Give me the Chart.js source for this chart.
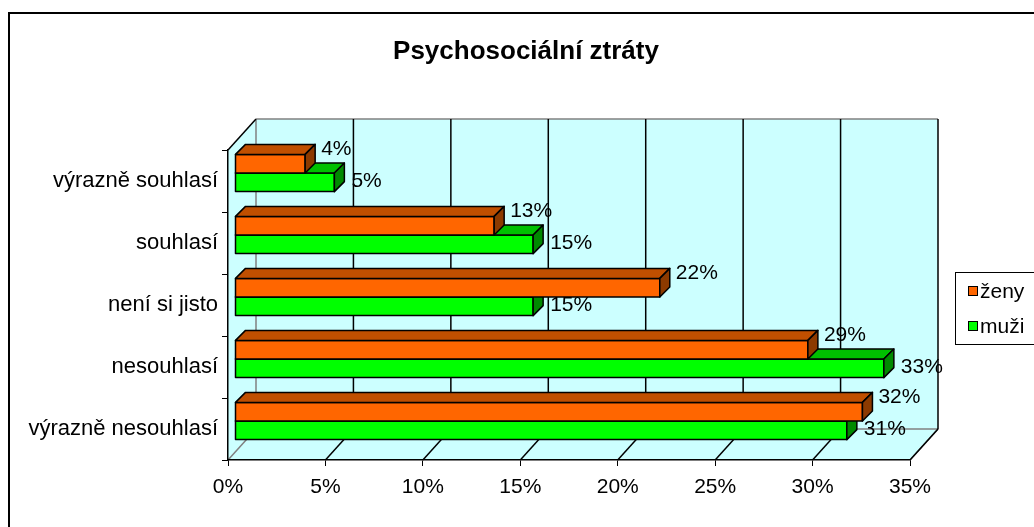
<!DOCTYPE html>
<html>
<head>
<meta charset="utf-8">
<script src="https://cdn.jsdelivr.net/npm/chart.js@4.4.1/dist/chart.umd.min.js"></script>
<style>
  html, body { margin: 0; padding: 0; background: #fff; }
  #wrap { width: 1034px; height: 527px; position: relative; }
</style>
</head>
<body>
<div id="wrap"><canvas id="chart"></canvas></div>
<script>
const chartTitle = "Psychosociální ztráty";
const categories = ["výrazně souhlasí", "souhlasí", "není si jisto", "nesouhlasí", "výrazně nesouhlasí"];
const seriesNames = ["ženy", "muži"];
const zeny = [3.6, 13.3, 21.8, 29.4, 32.2];
const muzi = [5.1, 15.3, 15.3, 33.3, 31.4];
const xTicks = [0, 5, 10, 15, 20, 25, 30, 35];

const FONT = '"Liberation Sans", Arial, sans-serif';
const fronts = ["#FF6600", "#00FF00"];
const tops = ["#C04F00", "#00C000"];
const sides = ["#8C3A00", "#008A00"];

// 3D box depth and bar offset inside it
const DX = 28, DY = -31;
const BAR_DX = 7, BAR_DY = -8;
const BAR_D = 10;

function poly(ctx, pts) {
    ctx.beginPath();
    ctx.moveTo(pts[0][0], pts[0][1]);
    for (let i = 1; i < pts.length; i++) ctx.lineTo(pts[i][0], pts[i][1]);
    ctx.closePath();
}

function line(ctx, x1, y1, x2, y2) {
    ctx.beginPath();
    ctx.moveTo(x1, y1);
    ctx.lineTo(x2, y2);
    ctx.stroke();
}

function drawBar(ctx, bar, s) {
    const p = bar.getProps(["x", "y", "base", "height"], true);
    const x0 = Math.min(p.base, p.x), x1 = Math.max(p.base, p.x);
    const y0 = p.y - p.height / 2, y1 = p.y + p.height / 2;
    const d = BAR_D;
    ctx.lineWidth = 1.5;
    ctx.strokeStyle = "#000";
    ctx.lineJoin = "round";

    ctx.fillStyle = fronts[s];
    ctx.fillRect(x0, y0, x1 - x0, y1 - y0);
    ctx.strokeRect(x0, y0, x1 - x0, y1 - y0);

    poly(ctx, [[x0, y0], [x0 + d, y0 - d], [x1 + d, y0 - d], [x1, y0]]);
    ctx.fillStyle = tops[s];
    ctx.fill();
    ctx.stroke();

    poly(ctx, [[x1, y0], [x1 + d, y0 - d], [x1 + d, y1 - d], [x1, y1]]);
    ctx.fillStyle = sides[s];
    ctx.fill();
    ctx.stroke();
}

const box3d = {
    id: "box3d",
    beforeDraw(chart) {
        const ctx = chart.ctx;
        const { left: L, right: R, top: T, bottom: B } = chart.chartArea;
        const xs = chart.scales.x;
        ctx.save();

        // outer frame
        ctx.strokeStyle = "#000";
        ctx.lineWidth = 2;
        ctx.strokeRect(9, 13, chart.width + 20, chart.height + 20);

        // left wall, back wall and floor
        poly(ctx, [[L, T], [L + DX, T + DY], [R + DX, T + DY], [R + DX, B + DY], [R, B], [L, B]]);
        ctx.fillStyle = "#CCFFFF";
        ctx.fill();

        ctx.strokeStyle = "#808080";
        ctx.lineWidth = 1.5;
        line(ctx, L + DX, T + DY, R + DX, T + DY);
        line(ctx, L + DX, T + DY, L + DX, B + DY);
        line(ctx, L + DX, B + DY, R + DX, B + DY);
        line(ctx, R, B, R + DX, B + DY);
        line(ctx, L, B, L + DX, B + DY);

        ctx.strokeStyle = "#000";
        ctx.lineWidth = 1.5;
        line(ctx, L, T, L + DX, T + DY);

        xTicks.forEach(v => {
            if (v === 0) return;
            const px = xs.getPixelForValue(v);
            line(ctx, px + DX, T + DY, px + DX, B + DY);
            line(ctx, px, B, px + DX, B + DY);
        });
        ctx.restore();
    },
    beforeDatasetsDraw(chart) {
        chart.ctx.save();
        chart.ctx.translate(BAR_DX, BAR_DY);
    },
    afterDatasetsDraw(chart) {
        const ctx = chart.ctx;
        const m0 = chart.getDatasetMeta(0).data;
        const m1 = chart.getDatasetMeta(1).data;
        for (let i = 0; i < categories.length; i++) {
            drawBar(ctx, m1[i], 1);
            drawBar(ctx, m0[i], 0);
        }
        ctx.fillStyle = "#000";
        ctx.font = "21px " + FONT;
        ctx.textAlign = "left";
        ctx.textBaseline = "middle";
        for (let i = 0; i < categories.length; i++) {
            const a = m0[i], b = m1[i];
            ctx.fillText(Math.round(zeny[i]) + "%", a.x + 16, a.y - 14);
            ctx.fillText(Math.round(muzi[i]) + "%", b.x + 17, b.y - 1);
        }
        ctx.restore();
    },
    afterDraw(chart) {
        const ctx = chart.ctx;
        ctx.save();
        ctx.fillStyle = "#000";
        ctx.textAlign = "center";
        ctx.textBaseline = "middle";
        ctx.font = "bold 26px " + FONT;
        ctx.fillText(chartTitle, 526, 52);

        // legend
        ctx.strokeStyle = "#000";
        ctx.lineWidth = 1;
        ctx.strokeRect(955.5, 272.5, 120, 72);
        ctx.font = "21px " + FONT;
        ctx.textAlign = "left";
        seriesNames.forEach((name, i) => {
            const y = 291 + i * 35;
            ctx.fillStyle = fronts[i];
            ctx.fillRect(968.5, y - 4.5, 9, 9);
            ctx.strokeRect(968.5, y - 4.5, 9, 9);
            ctx.fillStyle = "#000";
            ctx.fillText(name, 980, y + 1);
        });
        ctx.restore();
    }
};

new Chart(document.getElementById("chart"), {
    type: "bar",
    data: {
        labels: categories,
        datasets: [
            { label: seriesNames[0], data: zeny, backgroundColor: fronts[0], borderColor: "#000", borderWidth: 1,
              categoryPercentage: 0.6, barPercentage: 1 },
            { label: seriesNames[1], data: muzi, backgroundColor: fronts[1], borderColor: "#000", borderWidth: 1,
              categoryPercentage: 0.6, barPercentage: 1 }
        ]
    },
    options: {
        indexAxis: "y",
        responsive: true,
        maintainAspectRatio: false,
        animation: false,
        layout: { padding: { top: 150, right: 124, left: 0, bottom: 0 } },
        plugins: {
            legend: { display: false },
            tooltip: { enabled: false },
            title: { display: false }
        },
        scales: {
            x: {
                min: 0,
                max: 35,
                afterBuildTicks: s => { s.ticks = xTicks.map(v => ({ value: v })); },
                ticks: {
                    callback: v => v + "%",
                    color: "#000",
                    font: { family: FONT, size: 21 },
                    padding: 9,
                    maxRotation: 0
                },
                grid: { drawOnChartArea: false, drawTicks: true, tickLength: 6, color: "#000" },
                border: { display: true, color: "#000", width: 1.5 },
                afterFit: s => { s.height = 67; }
            },
            y: {
                ticks: { color: "#000", font: { family: FONT, size: 22 }, padding: 4 },
                grid: { drawOnChartArea: false, drawTicks: true, tickLength: 6, color: "#000", offset: true },
                border: { display: true, color: "#000", width: 1.5 },
                afterFit: s => { s.width = 228; }
            }
        }
    },
    plugins: [box3d]
});
</script>
</body>
</html>
